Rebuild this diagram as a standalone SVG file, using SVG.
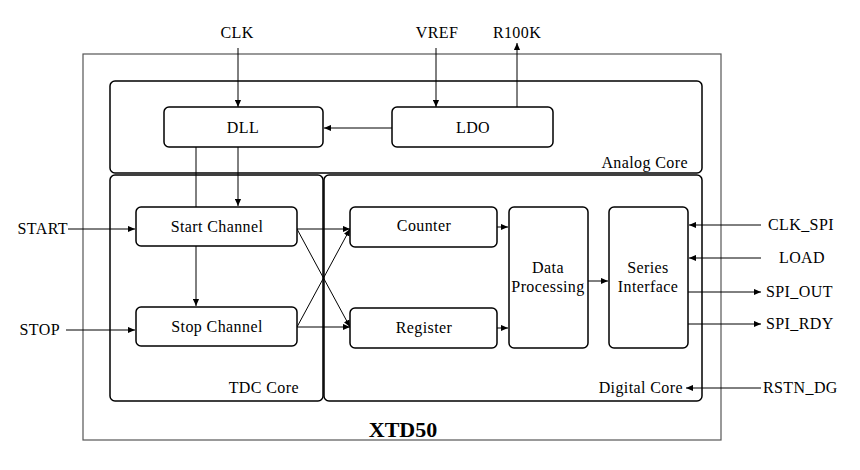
<svg xmlns="http://www.w3.org/2000/svg" width="860" height="470" viewBox="0 0 860 470">
<style>
  text { font-family: "Liberation Serif", "Times New Roman", serif; font-size: 16px; fill: #000; letter-spacing: 0.4px; }
  .c { text-anchor: middle; }
  .e { text-anchor: end; }
  .box { fill: #fff; stroke: #000; stroke-width: 1.5; }
  .core { fill: none; stroke: #000; stroke-width: 1.5; }
  .ln { fill: none; stroke: #000; stroke-width: 1; }
  .t { font-weight: bold; font-size: 22px; letter-spacing: 0; }
</style>
<defs>
  <marker id="ah" viewBox="0 0 8 8" refX="8" refY="4" markerWidth="7" markerHeight="7" markerUnits="userSpaceOnUse" orient="auto">
    <path d="M0,0.5 L8,4 L0,7.5 Z" fill="#000"/>
  </marker>
</defs>
<rect width="860" height="470" fill="#fff"/>

<g id="chip">
  <rect x="83" y="54" width="638" height="386" fill="none" stroke="#555" stroke-width="1.2"/>
  <text class="c t" x="403" y="437">XTD50</text>
</g>
<g id="analog-core">
  <rect class="core" x="110" y="81" width="592" height="92" rx="5"/>
  <text class="e" x="688" y="168">Analog Core</text>
</g>
<g id="tdc-core">
  <rect class="core" x="110" y="175" width="213" height="226" rx="5"/>
  <text class="e" x="299" y="393">TDC Core</text>
</g>
<g id="digital-core">
  <rect class="core" x="324" y="175" width="378" height="226" rx="5"/>
  <text class="e" x="683" y="393">Digital Core</text>
</g>

<g id="connectors">
  <line class="ln" x1="238" y1="48" x2="238" y2="107" marker-end="url(#ah)"/>
  <line class="ln" x1="436" y1="48" x2="436" y2="107" marker-end="url(#ah)"/>
  <line class="ln" x1="517" y1="107" x2="517" y2="43" marker-end="url(#ah)"/>
  <line class="ln" x1="392" y1="128" x2="324" y2="128" marker-end="url(#ah)"/>
  <line class="ln" x1="238" y1="147" x2="238" y2="206" marker-end="url(#ah)"/>
  <line class="ln" x1="196" y1="147" x2="196" y2="306" marker-end="url(#ah)"/>
  <line class="ln" x1="68" y1="229" x2="135" y2="229" marker-end="url(#ah)"/>
  <line class="ln" x1="66" y1="330" x2="135" y2="330" marker-end="url(#ah)"/>
  <line class="ln" x1="297" y1="229" x2="350" y2="229" marker-end="url(#ah)"/>
  <line class="ln" x1="297" y1="229" x2="350" y2="327" marker-end="url(#ah)"/>
  <line class="ln" x1="297" y1="327" x2="350" y2="327" marker-end="url(#ah)"/>
  <line class="ln" x1="297" y1="327" x2="350" y2="229" marker-end="url(#ah)"/>
  <line class="ln" x1="497" y1="227" x2="508" y2="227" marker-end="url(#ah)"/>
  <line class="ln" x1="497" y1="328" x2="508" y2="328" marker-end="url(#ah)"/>
  <line class="ln" x1="588" y1="281" x2="608" y2="281" marker-end="url(#ah)"/>
  <line class="ln" x1="761" y1="225" x2="689" y2="225" marker-end="url(#ah)"/>
  <line class="ln" x1="761" y1="258" x2="689" y2="258" marker-end="url(#ah)"/>
  <line class="ln" x1="688" y1="292" x2="761" y2="292" marker-end="url(#ah)"/>
  <line class="ln" x1="688" y1="324" x2="761" y2="324" marker-end="url(#ah)"/>
  <line class="ln" x1="761" y1="388" x2="686" y2="388" marker-end="url(#ah)"/>
</g>

<g id="DLL">
  <rect class="box" x="164" y="107" width="159" height="40" rx="5"/>
  <text class="c" x="243" y="133">DLL</text>
</g>
<g id="LDO">
  <rect class="box" x="392" y="107" width="161" height="40" rx="5"/>
  <text class="c" x="473" y="133">LDO</text>
</g>
<g id="start-channel">
  <rect class="box" x="136" y="207" width="161" height="39" rx="5"/>
  <text class="c" x="217" y="232">Start Channel</text>
</g>
<g id="stop-channel">
  <rect class="box" x="136" y="307" width="161" height="39" rx="5"/>
  <text class="c" x="217" y="332">Stop Channel</text>
</g>
<g id="counter">
  <rect class="box" x="350" y="207" width="147" height="40" rx="5"/>
  <text class="c" x="424" y="231">Counter</text>
</g>
<g id="register">
  <rect class="box" x="350" y="308" width="147" height="40" rx="5"/>
  <text class="c" x="424" y="333">Register</text>
</g>
<g id="data-processing">
  <rect class="box" x="509" y="207" width="79" height="141" rx="5"/>
  <text class="c" x="548" y="273">Data</text>
  <text class="c" x="548" y="292">Processing</text>
</g>
<g id="series-interface">
  <rect class="box" x="609" y="207" width="79" height="141" rx="5"/>
  <text class="c" x="648" y="273">Series</text>
  <text class="c" x="648" y="292">Interface</text>
</g>

<g id="labels">
  <text class="c" x="237" y="38">CLK</text>
  <text class="c" x="437" y="38">VREF</text>
  <text class="c" x="517" y="38">R100K</text>
  <text class="e" x="68" y="234">START</text>
  <text class="e" x="60" y="335">STOP</text>
  <text x="768" y="230">CLK_SPI</text>
  <text class="c" x="802" y="263">LOAD</text>
  <text x="766" y="297">SPI_OUT</text>
  <text x="766" y="329">SPI_RDY</text>
  <text x="763" y="393">RSTN_DG</text>
</g>
</svg>
